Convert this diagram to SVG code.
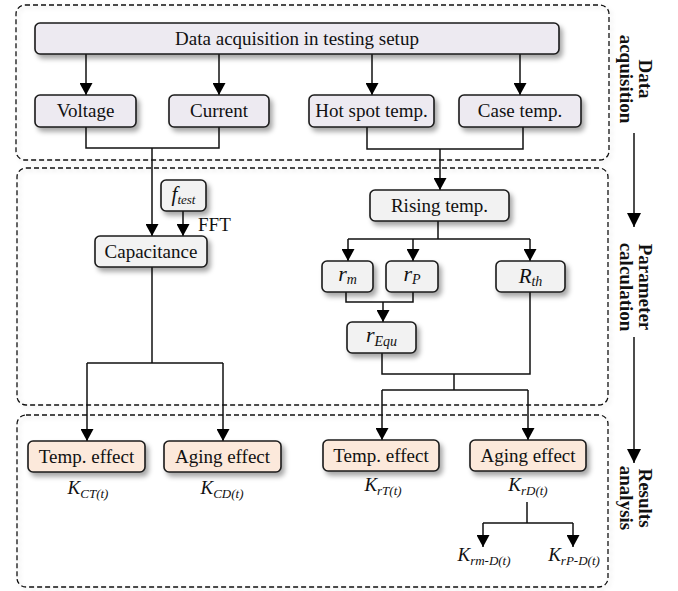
<svg xmlns="http://www.w3.org/2000/svg" width="678" height="591" viewBox="0 0 678 591">
<defs>
<filter id="sh" x="-20%" y="-30%" width="150%" height="180%">
<feDropShadow dx="3" dy="4" stdDeviation="2.5" flood-color="#000" flood-opacity="0.35"/>
</filter>
<filter id="shl" x="-10%" y="-10%" width="120%" height="130%">
<feDropShadow dx="2" dy="2" stdDeviation="2" flood-color="#000" flood-opacity="0.15"/>
</filter>
<marker id="ah" viewBox="0 0 12 13" refX="12" refY="6.5" markerWidth="12" markerHeight="13" markerUnits="userSpaceOnUse" orient="auto">
<path d="M0,0 L12,6.5 L0,13 Z" fill="#000"/>
</marker>
<marker id="ahb" viewBox="0 0 14 14" refX="14" refY="7" markerWidth="14" markerHeight="14" markerUnits="userSpaceOnUse" orient="auto">
<path d="M0,0 L14,7 L0,14 Z" fill="#000"/>
</marker>
</defs>
<style>
.grp{fill:none;stroke:#111;stroke-width:1.3;stroke-dasharray:5,3;filter:url(#shl)}
.n rect{stroke:#1a1a1a;stroke-width:1.6;filter:url(#sh)}
.a rect{fill:#EDEAF1}
.p rect{fill:#F2F2F2}
.r rect{fill:#FCE9DB}
text{font-family:"Liberation Serif","Times New Roman",serif;fill:#111}
.t{font-size:19px;text-anchor:middle}
.m{font-style:italic;text-anchor:middle}
.side{font-size:19px;font-weight:bold;text-anchor:middle}
.c{fill:none;stroke:#111;stroke-width:1.5}
.arr{marker-end:url(#ah)}
</style>

<g id="groups">
<rect class="grp" x="16" y="5" width="593" height="155" rx="9"/>
<rect class="grp" x="17" y="168" width="591" height="237" rx="9"/>
<rect class="grp" x="17" y="415" width="591" height="172" rx="9"/>
</g>

<g id="connectors">
<path class="c arr" d="M86,54 V95"/>
<path class="c arr" d="M219,54 V95"/>
<path class="c arr" d="M372,54 V95"/>
<path class="c arr" d="M520,54 V95"/>
<path class="c" d="M86,127 V148 H219 V127"/>
<path class="c arr" d="M152,148 V236"/>
<path class="c" d="M367,127 V149 H523 V127"/>
<path class="c arr" d="M440,149 V190"/>
<path class="c arr" d="M183,211 V236"/>
<path class="c" d="M152,267 V363"/>
<path class="c arr" d="M87,363 H223 M87,363 V441"/>
<path class="c arr" d="M223,363 V441"/>
<path class="c" d="M438,221 V239"/>
<path class="c arr" d="M348,239 H530 M348,239 V261"/>
<path class="c arr" d="M413,239 V261"/>
<path class="c arr" d="M530,239 V261"/>
<path class="c" d="M346,292 V302 H413 V292"/>
<path class="c arr" d="M383,302 V322"/>
<path class="c" d="M382,353 V374 H530 V292"/>
<path class="c" d="M454,374 V390"/>
<path class="c arr" d="M382,390 H528 M382,390 V440"/>
<path class="c arr" d="M528,390 V440"/>
<path class="c" d="M527,502 V523"/>
<path class="c arr" d="M483,523 H573 M483,523 V547"/>
<path class="c arr" d="M573,523 V547"/>
<path class="c" d="M634,133 V227" marker-end="url(#ahb)"/>
<path class="c" d="M634,337 V463" marker-end="url(#ahb)"/>
</g>

<g id="n-daq" class="n a"><rect x="35" y="23" width="524" height="31" rx="5"/><text class="t" x="297" y="45">Data acquisition in testing setup</text></g>
<g id="n-voltage" class="n a"><rect x="35" y="95" width="101" height="32" rx="5"/><text class="t" x="85.5" y="117">Voltage</text></g>
<g id="n-current" class="n a"><rect x="169" y="95" width="100" height="32" rx="5"/><text class="t" x="219" y="117">Current</text></g>
<g id="n-hotspot" class="n a"><rect x="309" y="95" width="125" height="32" rx="5"/><text class="t" x="371.5" y="117">Hot spot temp.</text></g>
<g id="n-case" class="n a"><rect x="459" y="95" width="122" height="32" rx="5"/><text class="t" x="520" y="117">Case temp.</text></g>

<g id="n-ftest" class="n p"><rect x="161" y="180" width="45" height="31" rx="5"/><text class="m" x="183.5" y="201"><tspan font-size="21">f</tspan><tspan font-size="13" dy="3">test</tspan></text></g>
<g id="l-fft"><text x="198" y="231" font-size="19">FFT</text></g>
<g id="n-cap" class="n p"><rect x="95" y="236" width="112" height="31" rx="5"/><text class="t" x="151" y="258">Capacitance</text></g>
<g id="n-rising" class="n p"><rect x="370" y="190" width="139" height="31" rx="5"/><text class="t" x="439.5" y="212">Rising temp.</text></g>
<g id="n-rm" class="n p"><rect x="322" y="261" width="51" height="31" rx="5"/><text class="m" x="347.5" y="281"><tspan font-size="22">r</tspan><tspan font-size="14" dy="3">m</tspan></text></g>
<g id="n-rp" class="n p"><rect x="386" y="261" width="52" height="31" rx="5"/><text class="m" x="412" y="281"><tspan font-size="22">r</tspan><tspan font-size="14" dy="3">P</tspan></text></g>
<g id="n-rth" class="n p"><rect x="496" y="261" width="69" height="31" rx="5"/><text class="m" x="530.5" y="283"><tspan font-size="21">R</tspan><tspan font-size="14" dy="3">th</tspan></text></g>
<g id="n-requ" class="n p"><rect x="347" y="322" width="69" height="31" rx="5"/><text class="m" x="381.5" y="342"><tspan font-size="22">r</tspan><tspan font-size="14" dy="4">Equ</tspan></text></g>

<g id="n-ctemp" class="n r"><rect x="28" y="441" width="117" height="31" rx="5"/><text class="t" x="86.5" y="463">Temp. effect</text></g>
<g id="n-caging" class="n r"><rect x="164" y="441" width="117" height="31" rx="5"/><text class="t" x="222.5" y="463">Aging effect</text></g>
<g id="n-rtemp" class="n r"><rect x="323" y="440" width="116" height="31" rx="5"/><text class="t" x="381" y="462">Temp. effect</text></g>
<g id="n-raging" class="n r"><rect x="470" y="440" width="116" height="31" rx="5"/><text class="t" x="528" y="462">Aging effect</text></g>

<g id="labels">
<text class="m" x="88" y="494"><tspan font-size="19">K</tspan><tspan font-size="13" dy="4">CT(t)</tspan></text>
<text class="m" x="222" y="494"><tspan font-size="19">K</tspan><tspan font-size="13" dy="4">CD(t)</tspan></text>
<text class="m" x="383" y="491"><tspan font-size="19">K</tspan><tspan font-size="13" dy="4">rT(t)</tspan></text>
<text class="m" x="528" y="491"><tspan font-size="19">K</tspan><tspan font-size="13" dy="4">rD(t)</tspan></text>
<text class="m" x="484" y="561"><tspan font-size="19">K</tspan><tspan font-size="13" dy="4">rm-D(t)</tspan></text>
<text class="m" x="574" y="561"><tspan font-size="19">K</tspan><tspan font-size="13" dy="4">rP-D(t)</tspan></text>
</g>

<g id="side">
<g transform="translate(639,79) rotate(90)"><text class="side" x="0" y="0">Data</text><text class="side" x="0" y="19">acquisition</text></g>
<g transform="translate(639,287) rotate(90)"><text class="side" x="0" y="0">Parameter</text><text class="side" x="0" y="19">calculation</text></g>
<g transform="translate(639,498) rotate(90)"><text class="side" x="0" y="0">Results</text><text class="side" x="0" y="19">analysis</text></g>
</g>
</svg>
